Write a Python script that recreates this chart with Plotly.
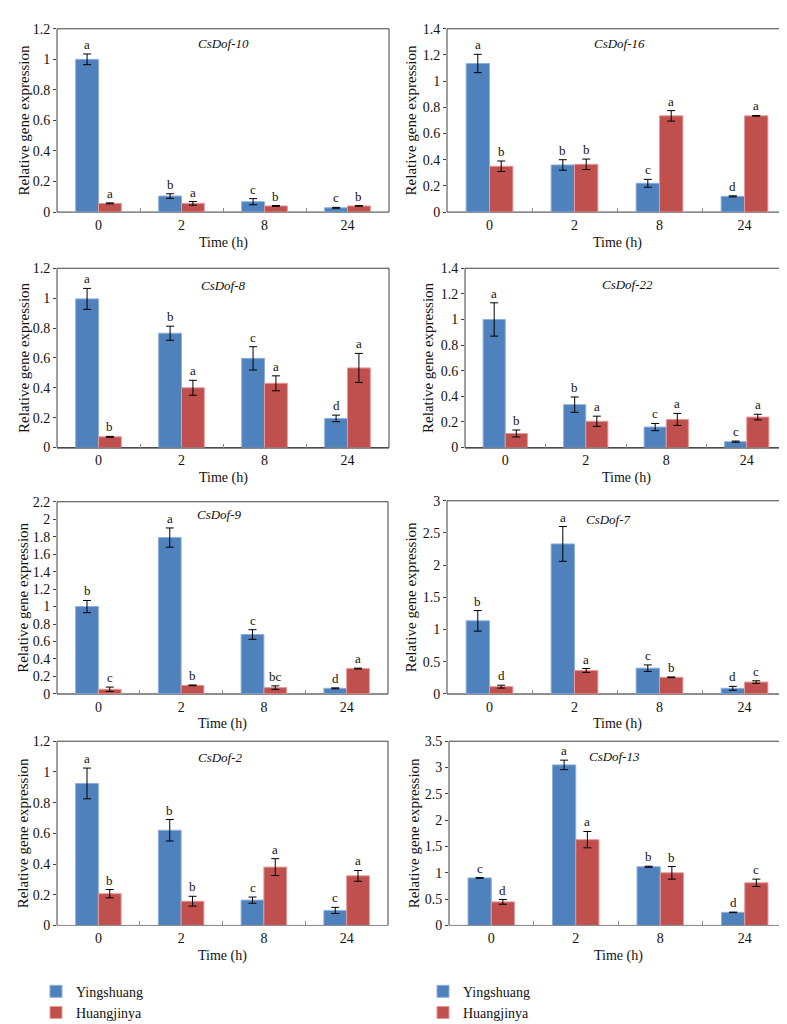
import plotly.graph_objects as go

W, H = 787, 1024

times = ["0", "2", "8", "24"]
series_names = ["Yingshuang", "Huangjinya"]

# ---- data ----
dof10_ying = [1.0, 0.105, 0.068, 0.028]
dof10_ying_err = [0.035, 0.015, 0.02, 0.003]
dof10_huang = [0.057, 0.057, 0.04, 0.04]
dof10_huang_err = [0.003, 0.012, 0.003, 0.002]
dof10_ying_letters = ["a", "b", "c", "c"]
dof10_huang_letters = ["a", "a", "b", "b"]

dof16_ying = [1.135, 0.36, 0.22, 0.12]
dof16_ying_err = [0.07, 0.04, 0.03, 0.004]
dof16_huang = [0.35, 0.365, 0.735, 0.735]
dof16_huang_err = [0.04, 0.04, 0.04, 0.003]
dof16_ying_letters = ["a", "b", "c", "d"]
dof16_huang_letters = ["b", "b", "a", "a"]

dof8_ying = [0.995, 0.765, 0.597, 0.195]
dof8_ying_err = [0.07, 0.047, 0.078, 0.022]
dof8_huang = [0.072, 0.40, 0.43, 0.533]
dof8_huang_err = [0.003, 0.05, 0.05, 0.097]
dof8_ying_letters = ["a", "b", "c", "d"]
dof8_huang_letters = ["b", "a", "a", "a"]

dof22_ying = [1.0, 0.335, 0.16, 0.046]
dof22_ying_err = [0.13, 0.06, 0.028, 0.005]
dof22_huang = [0.11, 0.205, 0.22, 0.238]
dof22_huang_err = [0.027, 0.04, 0.047, 0.022]
dof22_ying_letters = ["a", "b", "c", "c"]
dof22_huang_letters = ["b", "a", "a", "a"]

dof9_ying = [1.0, 1.79, 0.68, 0.064]
dof9_ying_err = [0.07, 0.11, 0.055, 0.005]
dof9_huang = [0.053, 0.098, 0.072, 0.29]
dof9_huang_err = [0.025, 0.004, 0.02, 0.005]
dof9_ying_letters = ["b", "a", "c", "d"]
dof9_huang_letters = ["c", "b", "bc", "a"]

dof7_ying = [1.135, 2.33, 0.40, 0.087]
dof7_ying_err = [0.16, 0.27, 0.05, 0.03]
dof7_huang = [0.113, 0.364, 0.258, 0.184]
dof7_huang_err = [0.022, 0.03, 0.005, 0.02]
dof7_ying_letters = ["b", "a", "c", "d"]
dof7_huang_letters = ["d", "a", "b", "c"]

dof2_ying = [0.925, 0.62, 0.165, 0.098]
dof2_ying_err = [0.1, 0.07, 0.02, 0.02]
dof2_huang = [0.207, 0.158, 0.38, 0.323]
dof2_huang_err = [0.027, 0.032, 0.055, 0.035]
dof2_ying_letters = ["a", "b", "c", "c"]
dof2_huang_letters = ["b", "b", "a", "a"]

dof13_ying = [0.903, 3.05, 1.115, 0.249]
dof13_ying_err = [0.006, 0.09, 0.01, 0.005]
dof13_huang = [0.448, 1.63, 1.0, 0.81]
dof13_huang_err = [0.045, 0.155, 0.12, 0.07]
dof13_ying_letters = ["c", "a", "b", "d"]
dof13_huang_letters = ["d", "a", "b", "c"]

genes = ["CsDof-10", "CsDof-16", "CsDof-8", "CsDof-22", "CsDof-9", "CsDof-7", "CsDof-2", "CsDof-13"]
y_max = [1.2, 1.4, 1.2, 1.4, 2.2, 3, 1.2, 3.5]
y_dtick = [0.2, 0.2, 0.2, 0.2, 0.2, 0.5, 0.2, 0.5]

ying_sets = [dof10_ying, dof16_ying, dof8_ying, dof22_ying, dof9_ying, dof7_ying, dof2_ying, dof13_ying]
ying_errs = [dof10_ying_err, dof16_ying_err, dof8_ying_err, dof22_ying_err, dof9_ying_err, dof7_ying_err, dof2_ying_err, dof13_ying_err]
huang_sets = [dof10_huang, dof16_huang, dof8_huang, dof22_huang, dof9_huang, dof7_huang, dof2_huang, dof13_huang]
huang_errs = [dof10_huang_err, dof16_huang_err, dof8_huang_err, dof22_huang_err, dof9_huang_err, dof7_huang_err, dof2_huang_err, dof13_huang_err]
ying_lets = [dof10_ying_letters, dof16_ying_letters, dof8_ying_letters, dof22_ying_letters, dof9_ying_letters, dof7_ying_letters, dof2_ying_letters, dof13_ying_letters]
huang_lets = [dof10_huang_letters, dof16_huang_letters, dof8_huang_letters, dof22_huang_letters, dof9_huang_letters, dof7_huang_letters, dof2_huang_letters, dof13_huang_letters]

# ---- layout (pixel boxes: left, right, top, bottom) ----
boxes = [
    (49, 381, 14, 200), (439, 779, 14, 200),
    (49, 381, 257, 439), (457, 779, 257, 439),
    (49, 380, 494, 689), (439, 779, 493, 689),
    (49, 380, 737, 924), (441, 779, 737, 924),
]
title_xfrac = [0.503, 0.506, 0.503, 0.506, 0.492, 0.476, 0.495, 0.491]
title_dy = [15, 15, 17, 16, 13, 19, 16, 15]
ytitle_x = [16, 403, 16, 420, 15, 403, 15, 406]

BLUE = "#4F81BD"
BLUE_EDGE = "#8DB0DA"
RED = "#C0504D"
RED_EDGE = "#E39A98"
FONT = "Liberation Serif, Times New Roman, serif"
BARGAP = 0.45
half = (1 - BARGAP) / 4

fig = go.Figure()
annotations = []
shapes = []
layout = {}

for k in range(8):
    n = k + 1
    xr = f"x{n}" if n > 1 else "x"
    yr = f"y{n}" if n > 1 else "y"
    leg = "legend" if k % 2 == 0 else "legend2"
    show = k < 2
    for name, vals, errs, col, edge in [
        (series_names[0], ying_sets[k], ying_errs[k], BLUE, BLUE_EDGE),
        (series_names[1], huang_sets[k], huang_errs[k], RED, RED_EDGE),
    ]:
        fig.add_trace(go.Bar(
            x=times, y=vals, name=name, xaxis=xr, yaxis=yr,
            marker=dict(color=col, line=dict(color=edge, width=1)),
            error_y=dict(type="data", array=errs, color="#000000", thickness=1, width=4),
            showlegend=show, legend=leg,
        ))
    # significance letters
    for i in range(4):
        for sgn, vals, errs, lets in [(-1, ying_sets[k], ying_errs[k], ying_lets[k]),
                                      (1, huang_sets[k], huang_errs[k], huang_lets[k])]:
            annotations.append(dict(
                x=i + sgn * half, y=vals[i] + errs[i], xref=xr, yref=yr,
                text=lets[i], showarrow=False, yanchor="bottom", yshift=0,
                font=dict(family=FONT, size=13, color="#111"),
            ))
    l, r, t, b = boxes[k]
    xdom = [l / W, r / W]
    ydom = [1 - b / H, 1 - t / H]
    layout[f"xaxis{n if n > 1 else ''}"] = dict(
        domain=xdom, anchor=yr, type="category", range=[-0.5, 3.5],
        showline=True, linecolor="#8c8c8c", linewidth=1,
        ticks="inside", tickson="boundaries", ticklen=4, tickcolor="#8c8c8c",
        showgrid=False, zeroline=False,
        tickfont=dict(family=FONT, size=14, color="#111"),
    )
    layout[f"yaxis{n if n > 1 else ''}"] = dict(
        domain=ydom, anchor=xr, range=[0, y_max[k]], tick0=0, dtick=y_dtick[k],
        ticks="outside", ticklen=3, tickcolor="#404040",
        showgrid=False, zeroline=False, showline=False,
        tickfont=dict(family=FONT, size=14, color="#111"),
    )
    shapes.append(dict(type="rect", xref=f"{xr} domain", yref=f"{yr} domain",
                       x0=0, x1=1, y0=0, y1=1, line=dict(color="#404040", width=1),
                       layer="below"))
    # gene name
    annotations.append(dict(
        x=title_xfrac[k], y=1, xref=f"{xr} domain", yref=f"{yr} domain",
        yshift=-title_dy[k], yanchor="middle", xanchor="center", showarrow=False,
        text=f"<i>{genes[k]}</i>", font=dict(family=FONT, size=13, color="#111"),
    ))
    # y title
    annotations.append(dict(
        x=ytitle_x[k] / W, y=1 - (t + b) / 2 / H, xref="paper", yref="paper",
        textangle=-90, showarrow=False, xanchor="center", yanchor="middle",
        text="Relative gene expression", font=dict(family=FONT, size=15, color="#111"),
    ))
    # x title
    annotations.append(dict(
        x=(l + r) / 2 / W, y=1 - (b + 31) / H, xref="paper", yref="paper",
        showarrow=False, xanchor="center", yanchor="middle",
        text="Time (h)", font=dict(family=FONT, size=14, color="#111"),
    ))

legend_style = dict(font=dict(family=FONT, size=14, color="#111"), bgcolor="rgba(0,0,0,0)",
                    orientation="v", yanchor="top", xanchor="left", itemclick=False)

fig.update_layout(
    width=W, height=H,
    margin=dict(l=0, r=0, t=0, b=0),
    paper_bgcolor="white", plot_bgcolor="white",
    barmode="group", bargap=BARGAP, bargroupgap=0,
    annotations=annotations, shapes=shapes,
    legend=dict(x=28 / W, y=1 - 975 / H, **legend_style),
    legend2=dict(x=415 / W, y=1 - 975 / H, **legend_style),
    **layout,
)

fig.write_html("out.html")
